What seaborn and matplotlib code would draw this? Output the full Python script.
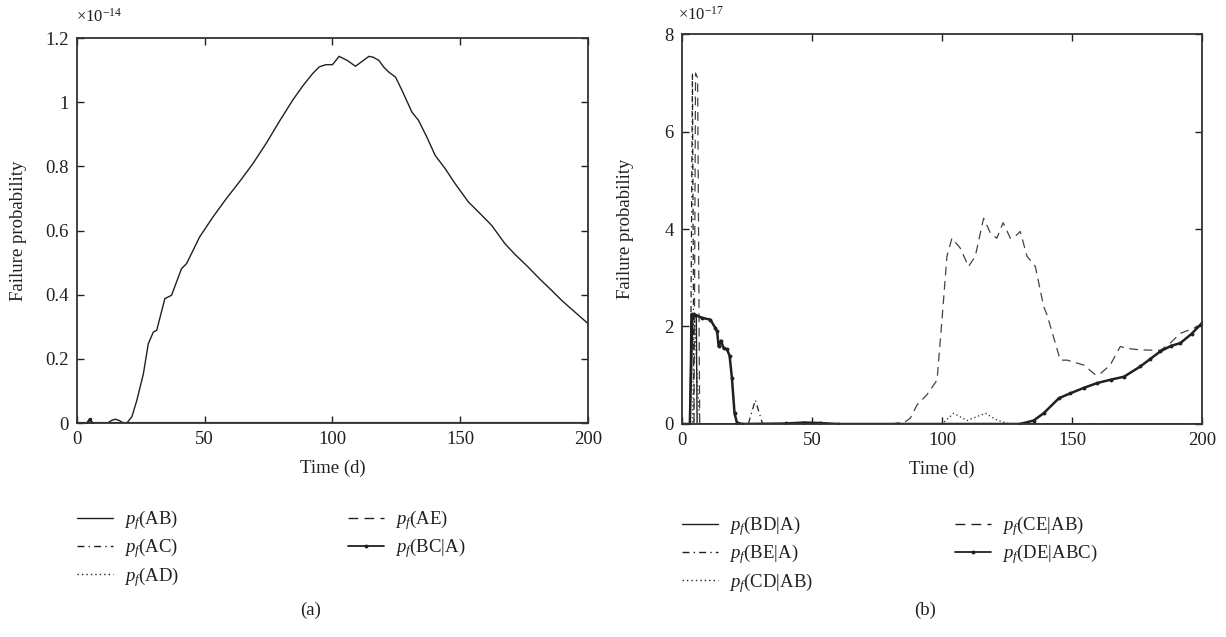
import numpy as np
import matplotlib
matplotlib.use("Agg")
import matplotlib.pyplot as plt
import seaborn as sns
from matplotlib.lines import Line2D

# ---------------- data (panel a, units of 1e-14) ----------------
ab_t = [0, 12, 13.5, 15, 16.5, 18, 19.5, 21.5, 23.4, 26, 27.9, 29.9, 31.2, 34.4, 37, 40.9,
        42.9, 48, 53.2, 58.4, 63.6, 68.8, 74, 79.2, 84.4, 88.3, 92.2, 94.8, 97.4, 100,
        102.6, 105.8, 109, 111.7, 114.3, 116, 118.2, 120, 122, 124.7, 127.2, 131.1, 133.7,
        137, 140.2, 144.1, 148, 153.2, 157.5, 162.3, 167.5, 171.5, 176.6, 181, 185.7, 190,
        195, 200]
ab = [0, 0, 0.008, 0.012, 0.008, 0.001, 0, 0.02, 0.07, 0.154, 0.247, 0.284, 0.289, 0.388,
      0.398, 0.481, 0.497, 0.58, 0.642, 0.699, 0.752, 0.808, 0.871, 0.94, 1.006, 1.05,
      1.089, 1.11, 1.117, 1.117, 1.143, 1.13, 1.112, 1.128, 1.143, 1.14, 1.13, 1.11,
      1.094, 1.078, 1.037, 0.969, 0.943, 0.89, 0.834, 0.793, 0.746, 0.689, 0.655, 0.616,
      0.559, 0.525, 0.486, 0.45, 0.414, 0.38, 0.345, 0.31]
ac_t = [0, 200]
ac = [0, 0]
ad_t = [0, 200]
ad = [0, 0]
ae_t = [0, 200]
ae = [0, 0]
bca_t = [0, 4, 5, 6, 200]
bca = [0, 0, 0.012, 0, 0]

# ---------------- data (panel b, units of 1e-17) ----------------
bda_t = [0, 3.0, 3.4, 5.5, 5.8, 200]
bda = [0, 0, 2.25, 2.2, 0, 0]
bea_t = [0, 3.2, 4.0, 4.6, 25.5, 28.2, 31, 200]
bea = [0, 0, 7.2, 0, 0, 0.49, 0, 0]
cdab_t = [0, 4, 4.8, 5.6, 6.8, 100, 104.5, 109.6, 116.7, 121.1, 126.3, 200]
cdab = [0, 0, 2.3, 1.2, 0, 0, 0.22, 0.07, 0.22, 0.08, 0, 0]
ceab_t = [0, 4.6, 5.2, 6.0, 6.8, 81, 86, 87.8, 90.4, 94.2, 98.1, 100, 101.9, 103.8, 107,
          110.2, 112.8, 116, 118.6, 121.1, 123.5, 126.3, 128.2, 130.1, 132.7, 135.9, 139.1,
          140.4, 145.5, 148.1, 154.5, 159, 160.9, 164.7, 168.6, 171.2, 176.3, 184, 187.8,
          191.7, 200]
ceab = [0, 0, 7.2, 7.1, 0, 0, 0.05, 0.12, 0.39, 0.6, 0.9, 2.14, 3.44, 3.81, 3.61, 3.23,
        3.44, 4.22, 3.92, 3.81, 4.13, 3.81, 3.85, 3.95, 3.44, 3.23, 2.41, 2.24, 1.31, 1.31,
        1.21, 1.01, 1.03, 1.21, 1.59, 1.55, 1.52, 1.51, 1.66, 1.86, 2.03]
deabc_t = [0, 3.0, 4.0, 5.1, 7.5, 10.9, 12.8, 13.5, 14.1, 15, 16, 17.3, 18.3, 19.2, 20.2,
           21.1, 23, 40, 47, 53, 60, 130, 135.2, 139.1, 145, 149.4, 154.5, 159.7, 165, 170,
           176.3, 180, 184, 188, 191.7, 196, 200]
deabc = [0, 0, 2.25, 2.24, 2.18, 2.14, 1.97, 1.9, 1.59, 1.71, 1.55, 1.53, 1.40, 0.94, 0.22,
         0.03, 0, 0.01, 0.03, 0.02, 0, 0, 0.07, 0.22, 0.53, 0.63, 0.74, 0.84, 0.91, 0.97,
         1.18, 1.33, 1.49, 1.6, 1.66, 1.85, 2.07]

labels_a = [r"$p_f$(AB)", r"$p_f$(AC)", r"$p_f$(AD)", r"$p_f$(AE)", r"$p_f$(BC|A)"]
labels_b = [r"$p_f$(BD|A)", r"$p_f$(BE|A)", r"$p_f$(CD|AB)", r"$p_f$(CE|AB)", r"$p_f$(DE|ABC)"]
xticks = [0, 50, 100, 150, 200]
yticks_a = [0, 0.2, 0.4, 0.6, 0.8, 1.0, 1.2]
yticks_b = [0, 2, 4, 6, 8]

# ---------------- style ----------------
sns.set_style("ticks")
INK = "#231f20"
plt.rcParams["font.family"] = ["Liberation Serif", "DejaVu Serif"]
plt.rcParams["mathtext.fontset"] = "custom"
plt.rcParams["mathtext.rm"] = "Liberation Serif"
plt.rcParams["mathtext.it"] = "Liberation Serif:italic"
plt.rcParams["mathtext.bf"] = "Liberation Serif:bold"
plt.rcParams["text.color"] = INK
FS = 13.5

styles = {
    "solid": dict(linestyle="-", lw=1.0),
    "dashdot": dict(linestyle=(0, (5, 3, 1, 3)), lw=0.9),
    "dotted": dict(linestyle=(0, (1, 2.2)), lw=0.9),
    "dashed": dict(linestyle=(0, (7, 4.5)), lw=0.9),
}

fig = plt.figure(figsize=(12.26, 6.37), dpi=100)
axA = fig.add_axes([0.0628, 0.3359, 0.4168, 0.6044])
axB = fig.add_axes([0.5563, 0.3344, 0.4241, 0.6122])

# panel a
sns.lineplot(x=ac_t, y=ac, ax=axA, color=INK, sort=False, estimator=None, **styles["dashdot"])
sns.lineplot(x=ad_t, y=ad, ax=axA, color=INK, sort=False, estimator=None, **styles["dotted"])
sns.lineplot(x=ae_t, y=ae, ax=axA, color=INK, sort=False, estimator=None, **styles["dashed"])
sns.lineplot(x=bca_t, y=bca, ax=axA, color=INK, sort=False, estimator=None, lw=1.6,
             marker="o", markersize=2.5, markeredgewidth=0)
sns.lineplot(x=ab_t, y=ab, ax=axA, color=INK, sort=False, estimator=None, **styles["solid"])

# panel b
sns.lineplot(x=bea_t, y=bea, ax=axB, color=INK, sort=False, estimator=None, **styles["dashdot"])
sns.lineplot(x=cdab_t, y=cdab, ax=axB, color=INK, sort=False, estimator=None, **styles["dotted"])
sns.lineplot(x=ceab_t, y=ceab, ax=axB, color="#444444", sort=False, estimator=None, **styles["dashed"])
sns.lineplot(x=bda_t, y=bda, ax=axB, color=INK, sort=False, estimator=None, **styles["solid"])
sns.lineplot(x=deabc_t, y=deabc, ax=axB, color=INK, sort=False, estimator=None, lw=1.8,
             marker="o", markersize=2.8, markeredgewidth=0)

def fmt(v, pos=None):
    return f"{v:g}"

for ax, yt in ((axA, yticks_a), (axB, yticks_b)):
    ax.set_xlim(0, 200)
    ax.set_ylim(yt[0], yt[-1])
    ax.set_xticks(xticks)
    ax.set_yticks(yt)
    ax.xaxis.set_major_formatter(plt.FuncFormatter(fmt))
    ax.yaxis.set_major_formatter(plt.FuncFormatter(fmt))
    ax.tick_params(direction="in", top=True, right=True, length=5, width=1.0,
                   labelsize=FS, colors=INK, pad=6)
    for s in ax.spines.values():
        s.set_visible(True)
        s.set_linewidth(1.3)
        s.set_color("#333333")
    ax.set_xlabel("Time (d)", fontsize=FS, color=INK, labelpad=8)
    ax.set_ylabel("Failure probability", fontsize=FS, color=INK)
    ax.set_facecolor("white")

axA.yaxis.set_label_coords(-0.097, 0.5)
axB.yaxis.set_label_coords(-0.092, 0.5)

W, H = 1226.0, 637.0
fig.text(76 / W, 1 - 17 / H, r"$\times10^{-14}$", fontsize=12, ha="left", va="center")
fig.text(678 / W, 1 - 15 / H, r"$\times10^{-17}$", fontsize=12, ha="left", va="center")
fig.text(311 / W, 1 - 610 / H, "(a)", fontsize=FS, ha="center", va="center")
fig.text(925 / W, 1 - 610 / H, "(b)", fontsize=FS, ha="center", va="center")

def handle(kind):
    if kind == "marker":
        return Line2D([], [], color=INK, lw=1.3, marker="o", markersize=2.8, markeredgewidth=0)
    st = styles[kind]
    return Line2D([], [], color=INK, linestyle=st["linestyle"], lw=1.0)

kinds = ["solid", "dashdot", "dotted", "dashed", "marker"]
leg_kw = dict(frameon=False, fontsize=FS, handlelength=1.9, handletextpad=0.6,
              labelspacing=0.24, borderpad=0, borderaxespad=0, loc="upper left")

def add_legends(labels, x1, x2, ytop):
    l1 = fig.legend([handle(k) for k in kinds[:3]], labels[:3],
                    bbox_to_anchor=(x1 / W, 1 - ytop / H), **leg_kw)
    l2 = fig.legend([handle(k) for k in kinds[3:]], labels[3:],
                    bbox_to_anchor=(x2 / W, 1 - ytop / H), **leg_kw)
    for l in (l1, l2):
        for t in l.get_texts():
            t.set_color(INK)

add_legends(labels_a, 77, 348, 508)
add_legends(labels_b, 682, 955, 514)

fig.savefig("out.png", dpi=100, facecolor="white")
